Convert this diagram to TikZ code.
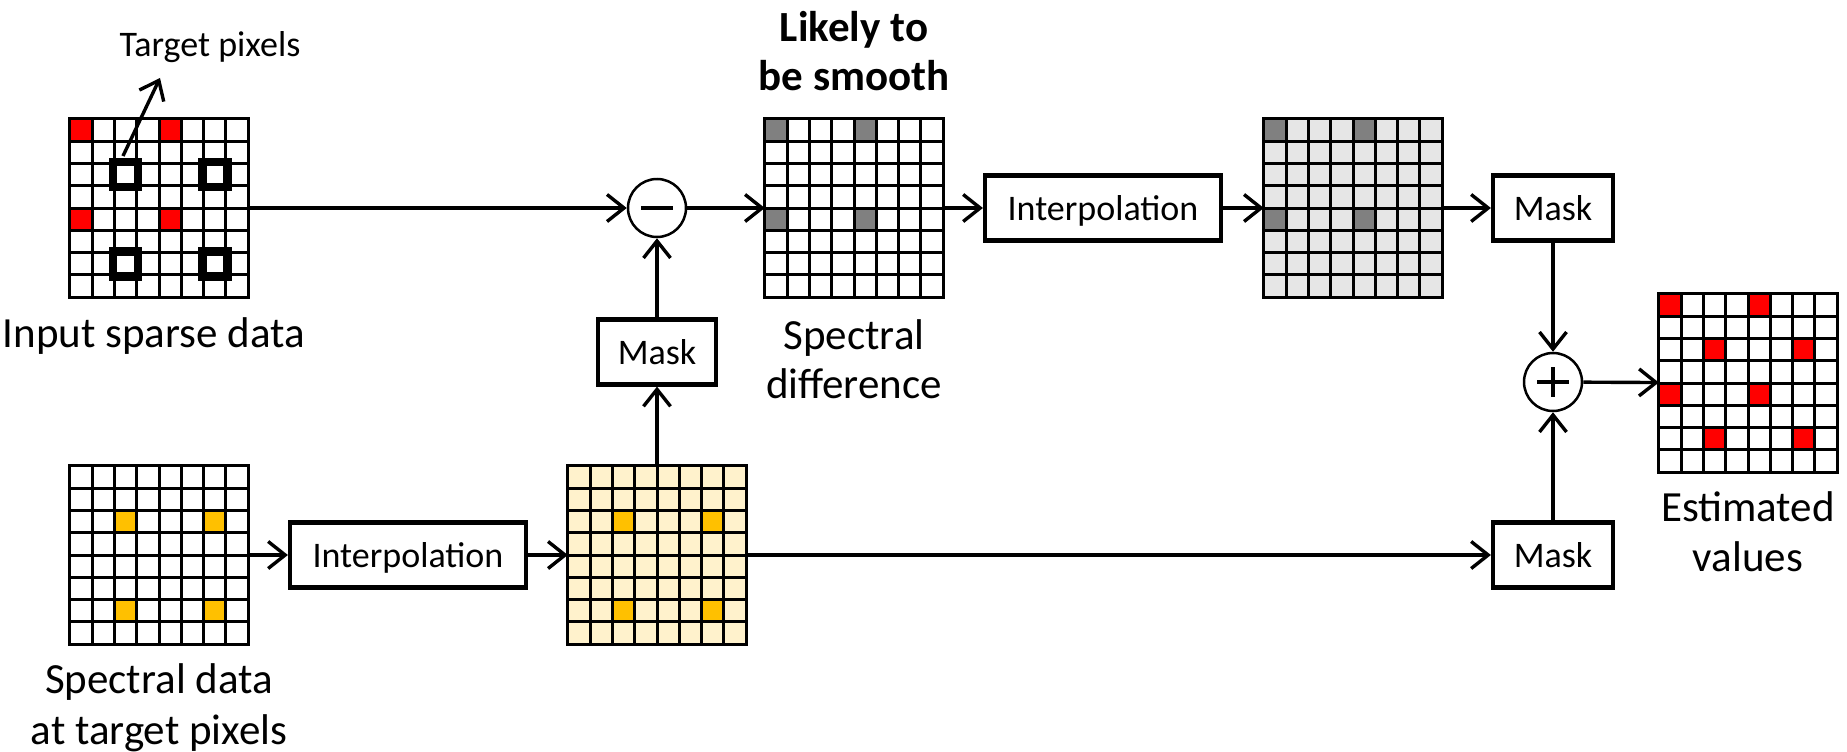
\documentclass[tikz,border=0pt]{standalone}
\usepackage{fontspec}
\setmainfont{Carlito}
\usetikzlibrary{arrows.meta,calc,positioning}

\definecolor{pixred}{HTML}{FF0000}
\definecolor{pixgray}{HTML}{808080}
\definecolor{smoothgray}{HTML}{E6E6E6}
\definecolor{pixorange}{HTML}{FFC000}
\definecolor{paleyellow}{HTML}{FFF2CC}

\newcommand{\cellsize}{22.3}
% colour some cells of a grid node: node, colour, list of col/row
\newcommand{\fillcells}[3]{%
  \foreach \c/\r in {#3} {
    \fill[#2] ($(#1.north west)+(\c*\cellsize,\r*\cellsize)$) rectangle +(\cellsize,\cellsize);
  }}
% the 8x8 lines of a grid node
\newcommand{\gridlines}[1]{%
  \foreach \i in {0,...,8} {
    \draw[gridline] ($(#1.north west)+(\i*\cellsize,0)$) -- +(0,8*\cellsize);
    \draw[gridline] ($(#1.north west)+(0,\i*\cellsize)$) -- +(8*\cellsize,0);
  }}

\tikzset{
  gridbox/.style={rectangle, inner sep=0, outer sep=0, minimum width=178.4pt, minimum height=178.4pt},
  gridline/.style={line width=3pt, line cap=rect},
  opbox/.style={draw, line width=4.2pt, inner sep=0, minimum height=65pt, text depth=0pt, font=\fontsize{36}{40}\selectfont},
  opcircle/.style={draw, circle, line width=2.5pt, minimum size=58pt, inner sep=0},
  sign/.style={line width=4.5pt},
  conn/.style={->, line width=3.4pt},
  lbl/.style={align=center, inner sep=0, font=\fontsize{43}{49}\selectfont},
  tgtsq/.style={line width=8.5pt},
  >={Straight Barb[length=17pt,width=27pt]}
}

\begin{document}
\begin{tikzpicture}[x=1pt, y=-1pt]
    \useasboundingbox (0,0) rectangle (1847,752);

    % grids
    \node[gridbox, fill=white] (inp) at (159,208) {};
    \node[gridbox, fill=white] (diff) at (854,208) {};
    \node[gridbox, fill=smoothgray] (diffint) at (1353,208) {};
    \node[gridbox, fill=white] (est) at (1748,383) {};
    \node[gridbox, fill=white] (tgt) at (159,555) {};
    \node[gridbox, fill=paleyellow] (tgtint) at (657,555) {};

    % coloured pixels
    \fillcells{inp}{pixred}{0/0,4/0,0/4,4/4}
    \fillcells{diff}{pixgray}{0/0,4/0,0/4,4/4}
    \fillcells{diffint}{pixgray}{0/0,4/0,0/4,4/4}
    \fillcells{est}{pixred}{0/0,4/0,0/4,4/4,2/2,6/2,2/6,6/6}
    \fillcells{tgt}{pixorange}{2/2,6/2,2/6,6/6}
    \fillcells{tgtint}{pixorange}{2/2,6/2,2/6,6/6}

    \gridlines{inp}
    \gridlines{diff}
    \gridlines{diffint}
    \gridlines{est}
    \gridlines{tgt}
    \gridlines{tgtint}

    % target pixel squares
    \foreach \c/\r in {2/2,6/2,2/6,6/6} {
        \draw[tgtsq] ($(inp.north west)+(\c*\cellsize+0.5*\cellsize-12.5,\r*\cellsize+0.5*\cellsize-12.5)$) rectangle +(25,25);
    }

    % operations
    \node[opcircle] (minus) at (657,208) {};
    \node[opcircle] (plus) at (1553,382) {};
    \draw[sign] ($(minus.center)+(-16,0)$) -- +(32,0);
    \draw[sign] ($(plus.center)+(-16,0)$) -- +(32,0);
    \draw[sign] ($(plus.center)+(0,-15)$) -- +(0,30);

    \node[opbox, minimum width=118pt] (maskA) at (657,352) {Mask};
    \node[opbox, minimum width=236pt] (interpA) at (1103,208) {Interpolation};
    \node[opbox, minimum width=120pt] (maskB) at (1553,208) {Mask};
    \node[opbox, minimum width=120pt] (maskC) at (1553,555) {Mask};
    \node[opbox, minimum width=236pt] (interpB) at (408,555) {Interpolation};

    % labels
    \node[font=\fontsize{36}{40}\selectfont, inner sep=0] (tplab) at (210,47) {Target pixels};
    \node[lbl, below=20pt of inp, xshift=-5pt] (inplab) {Input sparse data};
    \node[lbl, above=28pt of diff, font={\fontsize{43}{49}\selectfont\bfseries}] (smoothlab) {Likely to\\be smooth};
    \node[lbl, below=22pt of diff] (difflab) {Spectral\\difference};
    \node[lbl, below=19pt of est, font={\fontsize{43}{50}\selectfont}] (estlab) {Estimated\\values};
    \node[lbl, below=19pt of tgt, font={\fontsize{43}{51}\selectfont}] (tgtlab) {Spectral data\\at target pixels};

    % connectors
    \coordinate (tpfoot) at (123,156);
    \coordinate (tphead) at (160,78);
    \draw[conn] (tpfoot) -- (tphead);

    \draw[conn] (inp) -- (minus);
    \draw[conn] (minus) -- (diff);
    \draw[conn] (maskA) -- (minus);
    \draw[conn] (tgtint) -- (maskA);
    \draw[conn] (diff) -- (interpA);
    \draw[conn] (interpA) -- (diffint);
    \draw[conn] (diffint) -- (maskB);
    \draw[conn] (maskB) -- (plus);
    \draw[conn] (maskC) -- (plus);
    \draw[conn] (plus) -- (est);
    \draw[conn] (tgt) -- (interpB);
    \draw[conn] (interpB) -- (tgtint);
    \draw[conn] (tgtint) -- (maskC);
\end{tikzpicture}
\end{document}
